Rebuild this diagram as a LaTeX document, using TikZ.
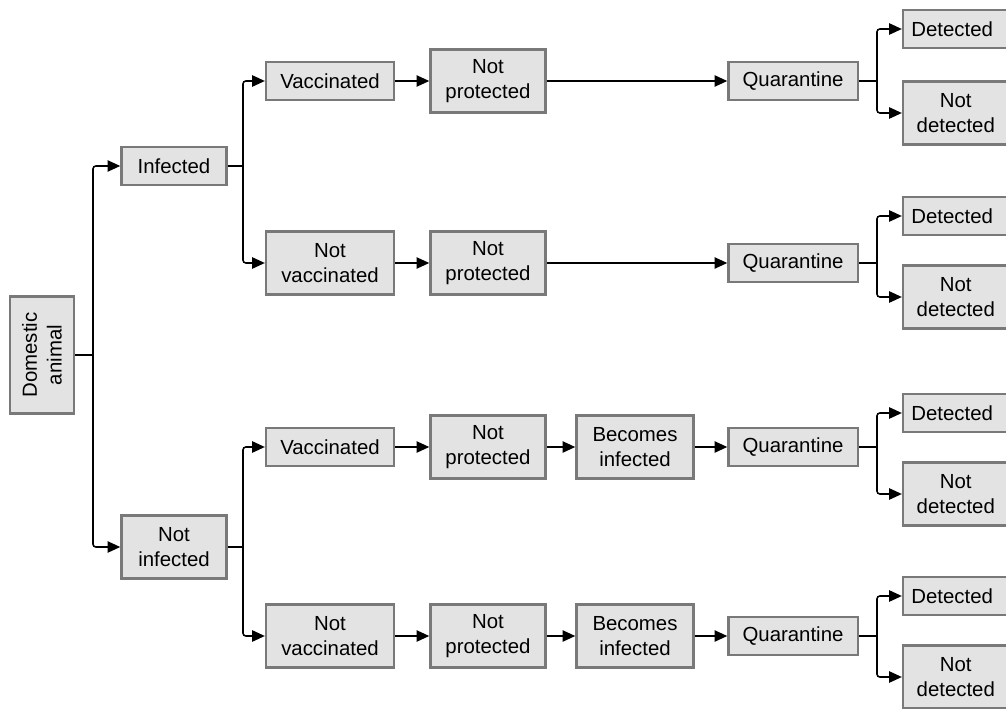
\documentclass[tikz,border=0pt]{standalone}
\usepackage{fontspec}
\setmainfont{Liberation Sans}
\usetikzlibrary{arrows.meta,shadows}

\begin{document}
\begin{tikzpicture}[
    x=0.025cm, y=-0.025cm,
    box/.style={
        rectangle,
        draw=gray!60!black!75,
        line width=1.6pt,
        fill=gray!22,
        drop shadow={opacity=0.3, shadow xshift=0.8pt, shadow yshift=-0.8pt},
        align=center,
        inner sep=0pt,
        font=\fontsize{14.5}{17.5}\selectfont,
        minimum width=3.2cm,
        minimum height=0.95cm
    },
    tall box/.style={
        box,
        minimum height=1.58cm
    },
    link/.style={
        draw=black,
        line width=1.1pt,
        rounded corners=2pt
    },
    arrow/.style={
        link,
        -{Triangle[length=9pt,width=8pt]}
    }
]

% Marco de la imagen
\useasboundingbox (0,0) rectangle (1006,709);
\clip (0,0) rectangle (1006,709);

% Raíz
\node[box, rotate=90, minimum width=2.93cm, minimum height=1.6cm] (dom) at (42,355) {Domestic\\animal};

% Primer nivel
\node[box, minimum width=2.63cm] (inf) at (174,166) {Infected};
\node[tall box, minimum width=2.63cm] (ninf) at (174,547) {Not\\infected};

% Vacunación
\node[box] (vac1) at (330,81) {Vaccinated};
\node[tall box] (nvac1) at (330,263) {Not\\vaccinated};
\node[box] (vac2) at (330,447) {Vaccinated};
\node[tall box] (nvac2) at (330,636) {Not\\vaccinated};

% Protección
\node[tall box, minimum width=2.88cm] (prot1) at (488,81) {Not\\protected};
\node[tall box, minimum width=2.88cm] (prot2) at (488,263) {Not\\protected};
\node[tall box, minimum width=2.88cm] (prot3) at (488,447) {Not\\protected};
\node[tall box, minimum width=2.88cm] (prot4) at (488,636) {Not\\protected};

% Infección posterior
\node[tall box, minimum width=2.93cm] (becomes3) at (635,447) {Becomes\\infected};
\node[tall box, minimum width=2.93cm] (becomes4) at (635,636) {Becomes\\infected};

% Cuarentena
\node[box, minimum width=3.23cm] (quar1) at (793,81) {Quarantine};
\node[box, minimum width=3.23cm] (quar2) at (793,263) {Quarantine};
\node[box, minimum width=3.23cm] (quar3) at (793,447) {Quarantine};
\node[box, minimum width=3.23cm] (quar4) at (793,636) {Quarantine};

% Resultado
\node[box, minimum width=2.85cm, text width=2.85cm, align=left] (det1) at (960,29) {\hspace{6pt}Detected};
\node[tall box, minimum width=2.85cm] (ndet1) at (960,113) {\hspace{-6pt}Not\\\hspace{-6pt}detected};
\node[box, minimum width=2.85cm, text width=2.85cm, align=left] (det2) at (960,216) {\hspace{6pt}Detected};
\node[tall box, minimum width=2.85cm] (ndet2) at (960,297) {\hspace{-6pt}Not\\\hspace{-6pt}detected};
\node[box, minimum width=2.85cm, text width=2.85cm, align=left] (det3) at (960,413) {\hspace{6pt}Detected};
\node[tall box, minimum width=2.85cm] (ndet3) at (960,494) {\hspace{-6pt}Not\\\hspace{-6pt}detected};
\node[box, minimum width=2.85cm, text width=2.85cm, align=left] (det4) at (960,596) {\hspace{6pt}Detected};
\node[tall box, minimum width=2.85cm] (ndet4) at (960,677) {\hspace{-6pt}Not\\\hspace{-6pt}detected};

% Puntos de bifurcación
\coordinate (j0) at (93,355);
\coordinate (j1) at (243,166);
\coordinate (j2) at (243,547);
\coordinate (q1) at (877,81);
\coordinate (q2) at (877,263);
\coordinate (q3) at (877,447);
\coordinate (q4) at (877,636);

% Ramas
\draw[link] (dom.south) -- (j0);
\draw[arrow] (j0) |- (inf.west);
\draw[arrow] (j0) |- (ninf.west);

\draw[link] (inf.east) -- (j1);
\draw[arrow] (j1) |- (vac1.west);
\draw[arrow] (j1) |- (nvac1.west);
\draw[link] (ninf.east) -- (j2);
\draw[arrow] (j2) |- (vac2.west);
\draw[arrow] (j2) |- (nvac2.west);

% Cadenas
\draw[arrow] (vac1.east) -- (prot1.west);
\draw[arrow] (prot1.east) -- (quar1.west);
\draw[arrow] (nvac1.east) -- (prot2.west);
\draw[arrow] (prot2.east) -- (quar2.west);
\draw[arrow] (vac2.east) -- (prot3.west);
\draw[arrow] (prot3.east) -- (becomes3.west);
\draw[arrow] (becomes3.east) -- (quar3.west);
\draw[arrow] (nvac2.east) -- (prot4.west);
\draw[arrow] (prot4.east) -- (becomes4.west);
\draw[arrow] (becomes4.east) -- (quar4.west);

% Detección
\draw[link] (quar1.east) -- (q1);
\draw[arrow] (q1) |- (det1.west);
\draw[arrow] (q1) |- (ndet1.west);
\draw[link] (quar2.east) -- (q2);
\draw[arrow] (q2) |- (det2.west);
\draw[arrow] (q2) |- (ndet2.west);
\draw[link] (quar3.east) -- (q3);
\draw[arrow] (q3) |- (det3.west);
\draw[arrow] (q3) |- (ndet3.west);
\draw[link] (quar4.east) -- (q4);
\draw[arrow] (q4) |- (det4.west);
\draw[arrow] (q4) |- (ndet4.west);

\end{tikzpicture}
\end{document}
